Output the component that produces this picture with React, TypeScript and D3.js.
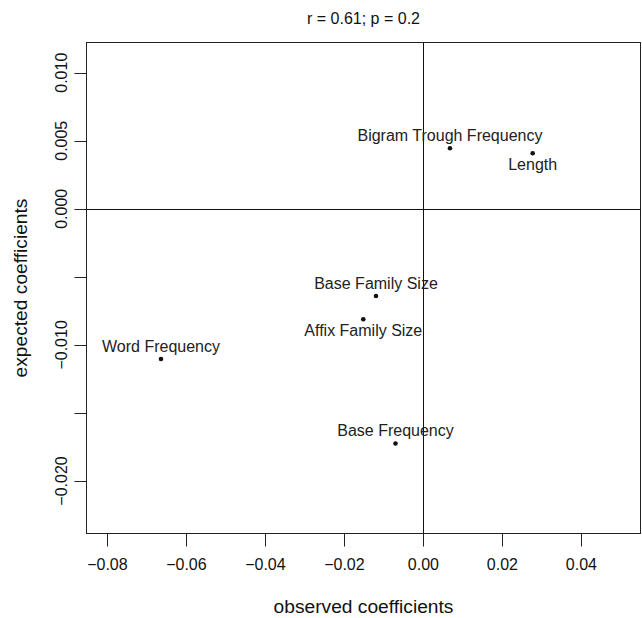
import React from "react";
import * as d3 from "d3";

const labels = [
  "Bigram Trough Frequency",
  "Length",
  "Base Family Size",
  "Affix Family Size",
  "Word Frequency",
  "Base Frequency",
];
const observed = [0.00673, 0.02767, -0.012, -0.01522, -0.06643, -0.00706];
const expected = [0.004445, 0.004078, -0.006407, -0.00812, -0.01104, -0.01724];
const labelSide = ["above", "below", "above", "below", "above", "above"];

const xTicks = [-0.08, -0.06, -0.04, -0.02, 0.0, 0.02, 0.04];
const yTicks = [-0.02, -0.015, -0.01, -0.005, 0.0, 0.005, 0.01];
const yTickLabels = [0.01, 0.005, 0.0, -0.01, -0.02];

const title = "r = 0.61; p = 0.2";
const xTitle = "observed coefficients";
const yTitle = "expected coefficients";

const W = 642;
const H = 618;
const L = 86.5;
const R = 640.5;
const T = 42.5;
const B = 533.5;
const FONT = "'Liberation Sans', Arial, Helvetica, sans-serif";
const FS = 16;
const FS_LAB = 19.2;

export default function App() {
  const x = d3.scaleLinear().domain([-0.08529, 0.05509]).range([86.5, 641]);
  const y = d3.scaleLinear().domain([-0.023894, 0.012234]).range([534, 42.3]);
  const fx = d3.format(".2f");
  const fy = d3.format(".3f");
  const px = (v: number) => Math.round(x(v)) + 0.5;
  const py = (v: number) => Math.round(y(v)) + 0.5;
  const cx = (L + R) / 2;
  const cy = (T + B) / 2;

  return (
    <svg
      width={W}
      height={H}
      style={{ position: "absolute", left: 0, top: 0, background: "#fff" }}
      fontFamily={FONT}
      fontSize={FS}
    >
      <rect x={0} y={0} width={W} height={H} fill="#fff" />
      {/* title */}
      <text x={cx} y={24} textAnchor="middle" fill="#111">
        {title}
      </text>
      {/* box */}
      <rect x={L} y={T} width={R - L} height={B - T} fill="none" stroke="#222" strokeWidth={1} />
      {/* zero lines */}
      <line x1={px(0)} x2={px(0)} y1={T} y2={B} stroke="#111" strokeWidth={1} />
      <line x1={L} x2={R} y1={py(0)} y2={py(0)} stroke="#111" strokeWidth={1} />
      {/* x axis */}
      {xTicks.map((t) => (
        <g key={"xt" + t}>
          <line x1={px(t)} x2={px(t)} y1={B} y2={B + 13} stroke="#222" />
          <text x={x(t)} y={570} textAnchor="middle" fill="#111">
            {fx(t)}
          </text>
        </g>
      ))}
      <text x={cx} y={613} textAnchor="middle" fill="#111" fontSize={FS_LAB}>
        {xTitle}
      </text>
      {/* y axis */}
      {yTicks.map((t) => (
        <line key={"yt" + t} x1={L - 12} x2={L} y1={py(t)} y2={py(t)} stroke="#222" />
      ))}
      {yTickLabels.map((t) => (
        <text
          key={"yl" + t}
          transform={`translate(67,${y(t)}) rotate(-90)`}
          textAnchor="middle"
          fill="#111"
        >
          {fy(t)}
        </text>
      ))}
      <text
        transform={`translate(27,${cy}) rotate(-90)`}
        textAnchor="middle"
        fill="#111"
        fontSize={FS_LAB}
      >
        {yTitle}
      </text>
      {/* points */}
      {labels.map((lab, i) => (
        <g key={lab}>
          <circle cx={x(observed[i])} cy={y(expected[i])} r={2.3} fill="#111" />
          <text
            x={x(observed[i])}
            y={labelSide[i] === "above" ? y(expected[i]) - 7 : y(expected[i]) + 16.5}
            textAnchor="middle"
            fill="#222"
          >
            {lab}
          </text>
        </g>
      ))}
    </svg>
  );
}
